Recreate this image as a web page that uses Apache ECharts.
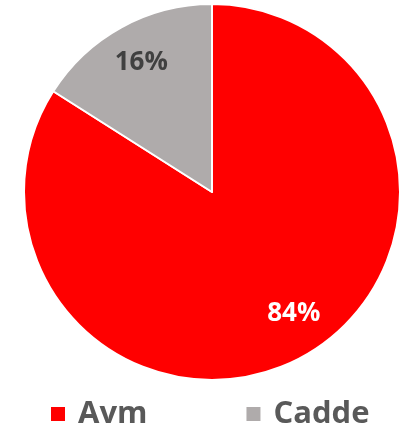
<!DOCTYPE html>
<html>
<head>
<meta charset="utf-8">
<script src="https://cdn.jsdelivr.net/npm/echarts@6/dist/echarts.min.js"></script>
<style>
html,body{margin:0;padding:0;background:#fff;}
#c{width:406px;height:429px;}
</style>
</head>
<body>
<div id="c"></div>
<script>
const categories = ['Avm', 'Cadde'];
const values = [84, 16];
const colors = ['#FF0000', '#AFABAB'];
const labelColors = ['#FFFFFF', '#404040'];

const chart = echarts.init(document.getElementById('c'), null, {renderer: 'canvas'});
const pieData = categories.map((name, i) => ({
  name: name,
  value: values[i],
  itemStyle: {color: colors[i]}
}));
const labelData = categories.map((name, i) => ({
  name: name,
  value: values[i],
  label: {color: labelColors[i], offset: i === 0 ? [9, -11] : [2, 3]}
}));

chart.setOption({
  animation: false,
  backgroundColor: '#ffffff',
  legend: {
    data: categories,
    left: 44,
    top: 393,
    icon: 'rect',
    itemWidth: 16,
    itemHeight: 16,
    itemGap: 97,
    textStyle: {
      fontFamily: 'Open Sans',
      fontWeight: 'bold',
      fontSize: 31,
      color: '#595959',
      lineHeight: 32,
      padding: [0, 0, 0, 7]
    }
  },
  series: [
    {
      type: 'pie',
      center: [212, 192],
      radius: [0, 188],
      startAngle: 90,
      clockwise: true,
      silent: true,
      label: {show: false},
      labelLine: {show: false},
      itemStyle: {borderColor: '#ffffff', borderWidth: 2},
      data: pieData
    },
    {
      type: 'pie',
      center: [212, 192],
      radius: [108, 188],
      startAngle: 90,
      clockwise: true,
      silent: true,
      legendHoverLink: false,
      itemStyle: {color: 'rgba(0,0,0,0)', borderWidth: 0},
      label: {
        show: true,
        position: 'inside',
        formatter: '{c}%',
        fontFamily: 'Open Sans',
        fontWeight: 'bold',
        fontSize: 26
      },
      labelLine: {show: false},
      data: labelData
    }
  ]
});
</script>
</body>
</html>
